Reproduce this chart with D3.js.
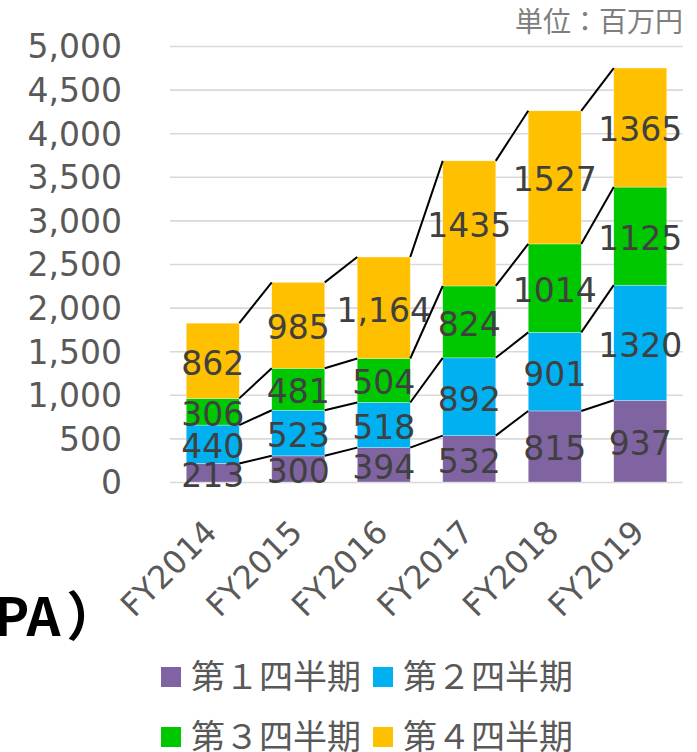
<!DOCTYPE html>
<html>
<head>
<meta charset="utf-8">
<script src="https://cdn.jsdelivr.net/npm/d3@7"></script>
<style>
  body{margin:0;background:#fff;}
  svg{display:block;}
</style>
</head>
<body>
<div id="chart"></div>
<script>
// data (million yen)
var years = ['FY2014','FY2015','FY2016','FY2017','FY2018','FY2019'];
var quarters = ['第１四半期','第２四半期','第３四半期','第４四半期'];
var q1 = [213, 300, 394, 532, 815, 937];
var q2 = [440, 523, 518, 892, 901, 1320];
var q3 = [306, 481, 504, 824, 1014, 1125];
var q4 = [862, 985, 1164, 1435, 1527, 1365];
var yTicks = [0,500,1000,1500,2000,2500,3000,3500,4000,4500,5000];
var colors = ['#8064a2','#00b0f0','#00c800','#ffc000'];

var W = 697, H = 752;
var m = {t:46, r:14, b:270, l:170};
var plotR = W - m.r, plotB = H - m.b;

var svg = d3.select('#chart').append('svg')
    .attr('width', W).attr('height', H);

var rows = years.map(function(y, i){
  return {year:y, 0:q1[i], 1:q2[i], 2:q3[i], 3:q4[i]};
});
var stack = d3.stack().keys([0,1,2,3])(rows);

//Scales
var x = d3.scaleBand().domain(years).range([m.l, plotR])
    .paddingInner(0.38).paddingOuter(0.19);
var y = d3.scaleLinear().domain([0,5000]).range([plotB, m.t]);

//Gridlines + y labels
var yAxis = d3.axisLeft(y).tickValues(yTicks)
    .tickFormat(d3.format(','))
    .tickSize(-(plotR - m.l)).tickPadding(48);
var gy = svg.append('g').attr('transform','translate(' + m.l + ',0)').call(yAxis);
gy.select('.domain').remove();
gy.selectAll('line').attr('stroke','#d9d9d9').attr('stroke-width',1.6);
gy.selectAll('text')
    .style('font-family','"DejaVu Sans", Verdana, sans-serif')
    .style('font-size','33px').attr('fill','#595959').attr('dy','0.36em');

//Bars
var series = svg.selectAll('.series').data(stack).enter().append('g')
    .attr('class','series')
    .attr('fill', function(d, i){ return colors[i]; });
series.selectAll('rect').data(function(d){ return d; }).enter().append('rect')
    .attr('x', function(d){ return x(d.data.year); })
    .attr('width', x.bandwidth())
    .attr('y', function(d){ return y(d[1]); })
    .attr('height', function(d){ return y(d[0]) - y(d[1]); })
    .attr('stroke','#ffffff').attr('stroke-opacity',0.5).attr('stroke-width',0.6);

//Connector lines between bar tops
stack.forEach(function(s){
  for (var j = 0; j < s.length - 1; j++){
    svg.append('line')
      .attr('x1', x(years[j]) + x.bandwidth()).attr('y1', y(s[j][1]))
      .attr('x2', x(years[j+1])).attr('y2', y(s[j+1][1]))
      .attr('stroke','#000').attr('stroke-width',2);
  }
});

//Value labels
stack.forEach(function(s, i){
  svg.append('g').selectAll('text').data(s).enter().append('text')
    .attr('x', function(d){ return x(d.data.year) + x.bandwidth()/2; })
    .attr('y', function(d){ return (y(d[0]) + y(d[1]))/2; })
    .attr('dy','0.42em')
    .attr('text-anchor','middle')
    .style('font-family','"DejaVu Sans", Verdana, sans-serif')
    .style('font-size','33px')
    .attr('fill','#404040')
    .text(function(d){
      var v = d[1] - d[0];
      // only FY2016 4Q was shown with a thousands separator
      return (d.data.year === 'FY2016' && i === 3) ? d3.format(',')(v) : String(v);
    });
});

//X labels
var xAxis = d3.axisBottom(x).tickSize(0);
var gx = svg.append('g').attr('transform','translate(0,' + plotB + ')').call(xAxis);
gx.select('.domain').remove();
gx.selectAll('text')
    .attr('x',0).attr('y',0).attr('dy',0)
    .attr('transform','translate(6,52) rotate(-45)')
    .attr('text-anchor','end')
    .style('font-family','"DejaVu Sans", Verdana, sans-serif')
    .style('font-size','32px').attr('fill','#595959');

//Unit note
svg.append('text').attr('x', 683).attr('y', 32)
    .attr('text-anchor','end')
    .style('font-family','"Noto Sans CJK JP", sans-serif')
    .style('font-size','28px').attr('fill','#7f7f7f')
    .text('単位：百万円');

//Cut-off heading fragment at left
var pa = svg.append('text').attr('x', -6).attr('y', 636)
    .style('font-family','"Noto Sans CJK JP", sans-serif')
    .style('font-weight','bold')
    .style('font-size','53px').attr('fill','#000');
pa.append('tspan').text('PA');
pa.append('tspan').attr('dx', 6).text('）');

//Legend
var legPos = [[161,677],[373,677],[161,737],[373,737]];
var leg = svg.selectAll('.leg').data(quarters).enter().append('g')
    .attr('class','leg')
    .attr('transform', function(d, i){ return 'translate(' + legPos[i][0] + ',' + legPos[i][1] + ')'; });
leg.append('rect').attr('x',0).attr('y',-10).attr('width',20).attr('height',20)
    .attr('fill', function(d, i){ return colors[i]; });
leg.append('text').attr('x',30).attr('y',12)
    .style('font-family','"Noto Sans CJK JP", sans-serif')
    .style('font-size','34px').attr('fill','#595959')
    .text(function(d){ return d; });
</script>
</body>
</html>
